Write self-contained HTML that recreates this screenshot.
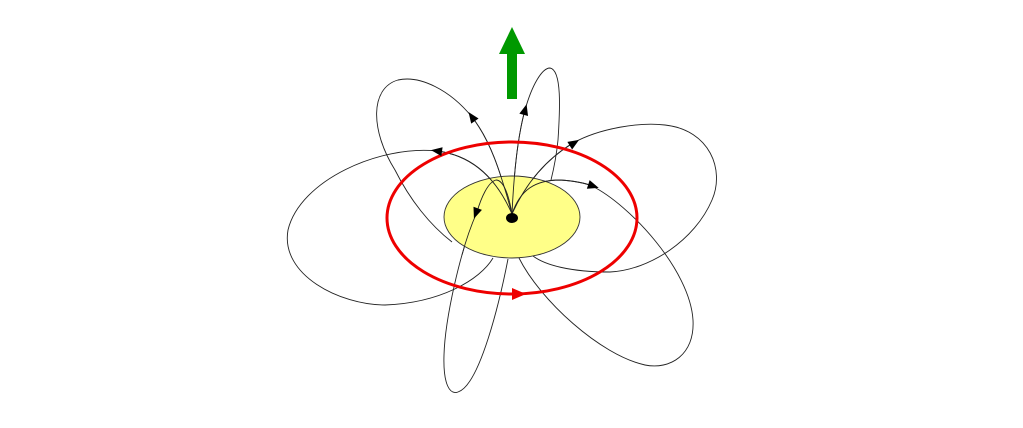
<!DOCTYPE html>
<html><head><meta charset="utf-8"><style>html,body{margin:0;padding:0;background:#fff;}svg{display:block}</style></head>
<body>
<svg width="1023" height="428" viewBox="0 0 1023 428" xmlns="http://www.w3.org/2000/svg">
<rect width="1023" height="428" fill="#fff"/>
<g fill="none" stroke="#222" stroke-width="0.9">
<path d="M452,242 C430,225 410,200 395,170 C370,130 370,88 398,80 C420,75 450,90 472,117 C490,140 500,170 512,214"/>
<path d="M493,258 C480,280 440,303 385,305 C340,305 280,275 288,230 C300,180 380,145 437,151 C470,155 495,175 512,214"/>
<path d="M551,180 C553,172 556,160 558,140 C560,110 562,70 550,68 C542,68 532,85 525,110 C518,135 514,170 512,214"/>
<path d="M533,256 C545,265 570,272 610,272 C650,270 695,240 712,200 C725,170 710,130 665,125 C640,122 600,128 573,143 C545,160 525,185 512,214"/>
<path d="M519,258 C540,300 600,355 645,365 C670,370 695,355 693,320 C690,270 630,205 592,186 C585,183 575,181 560,180 C535,180 520,190 512,214"/>
<path d="M508,259 C500,300 480,385 458,392 C450,395 443,385 444,355 C445,320 460,250 477,212"/>
</g>
<ellipse cx="512" cy="217" rx="68" ry="41" fill="#ffff88" stroke="#333" stroke-width="0.9"/>
<g fill="none" stroke="#222" stroke-width="0.9">
<path d="M512,214 C500,170 490,140 472,117"/>
<path d="M512,214 C495,175 470,155 437,151"/>
<path d="M512,214 C514,170 518,135 525,110"/>
<path d="M512,214 C525,185 545,160 573,143"/>
<path d="M512,214 C520,190 535,180 560,180 C575,181 585,183 592,186"/>
<path d="M512,214 C508,190 502,180 496,180 C488,182 481,198 477,212 C470,228 466,240 462,255"/>
</g>
<ellipse cx="512" cy="218" rx="6" ry="5" fill="#000"/>
<ellipse cx="512" cy="218" rx="125" ry="76" fill="none" stroke="#e00" stroke-width="3"/>
<g fill="#000">
<polygon points="6,0 -5,-4.5 -5,4.5" transform="translate(472,117) rotate(-125)"/>
<polygon points="6,0 -5,-4.5 -5,4.5" transform="translate(437,151) rotate(-172)"/>
<polygon points="6,0 -5,-4.5 -5,4.5" transform="translate(525,110) rotate(-75)"/>
<polygon points="6,0 -5,-4.5 -5,4.5" transform="translate(574,143) rotate(-32)"/>
<polygon points="6,0 -5,-4.5 -5,4.5" transform="translate(593,186) rotate(18)"/>
<polygon points="6,0 -5,-4.5 -5,4.5" transform="translate(476,213) rotate(110)"/>
</g>
<polygon points="8,0 -6,-6 -6,6" fill="#e00" transform="translate(518,294)"/>
<g fill="#009900">
<rect x="507" y="52" width="10" height="47"/>
<polygon points="512,27 499,54 525,54"/>
</g>
</svg>
</body></html>
